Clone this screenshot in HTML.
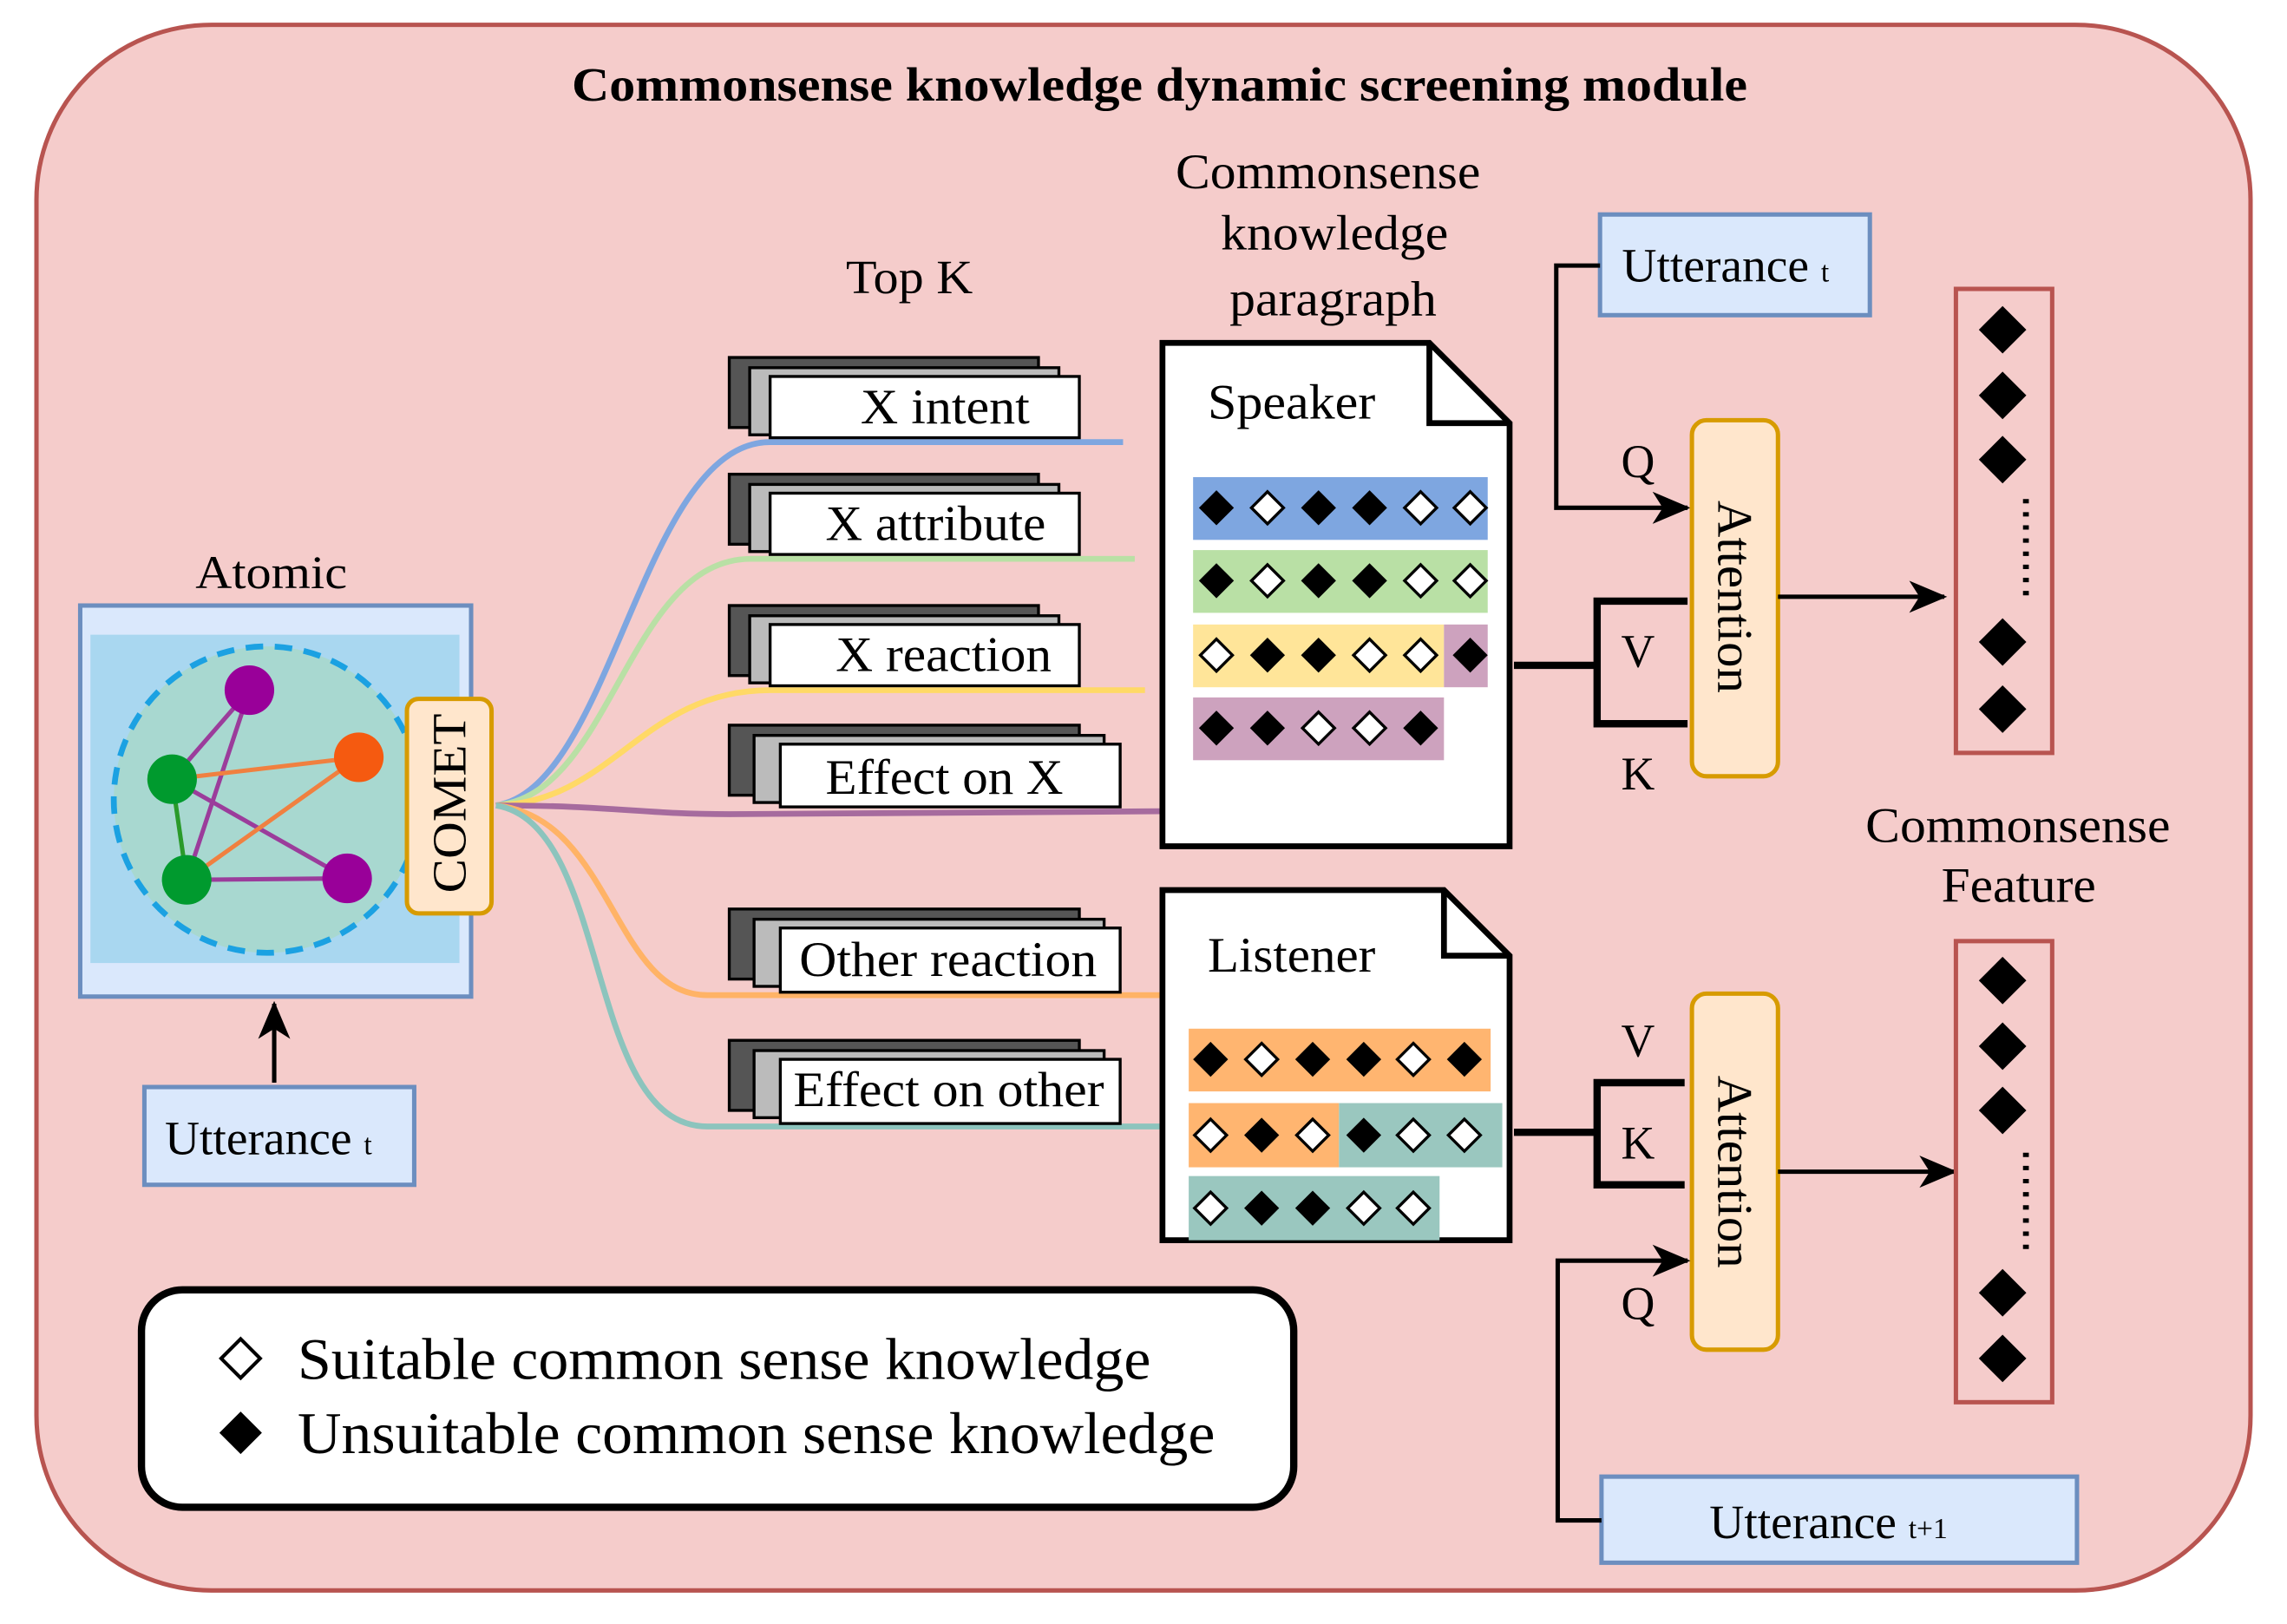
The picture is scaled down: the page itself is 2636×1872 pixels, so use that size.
<!DOCTYPE html>
<html><head><meta charset="utf-8"><style>html,body{margin:0;padding:0;background:#fff}svg{display:block}</style></head>
<body>
<svg width="2636" height="1872" viewBox="0 0 1568 1113" preserveAspectRatio="none" xmlns="http://www.w3.org/2000/svg" font-family="Liberation Serif, serif">
<defs>
<marker id="ah2" markerWidth="26" markerHeight="22" refX="24" refY="11" orient="auto" markerUnits="userSpaceOnUse"><path d="M0,0 L26,11 L0,22 L7,11 z" fill="#000"/></marker>
<symbol id="wd" viewBox="-14 -14 28 28"><path d="M0,-11 L11,0 L0,11 L-11,0 z" fill="#fff" stroke="#000" stroke-width="2"/></symbol>
<symbol id="bd" viewBox="-14 -14 28 28"><path d="M0,-12 L12,0 L0,12 L-12,0 z" fill="#000"/></symbol>
</defs>
<rect x="25" y="17" width="1518" height="1073" rx="120" fill="#f5cccb" stroke="#b85450" stroke-width="3"/>
<text x="392" y="69" font-size="33" font-weight="bold" textLength="806" lengthAdjust="spacingAndGlyphs">Commonsense knowledge dynamic screening module</text>

<!-- Atomic -->
<text x="134" y="403" font-size="32" textLength="104" lengthAdjust="spacingAndGlyphs">Atomic</text>
<rect x="55" y="415" width="268" height="268" fill="#dae8fc" stroke="#6c8ebf" stroke-width="3"/>
<rect x="62" y="435" width="253" height="225" fill="#a9d7f0"/>
<circle cx="183" cy="548" r="105" fill="#a8d8d0" stroke="#1ba1e2" stroke-width="4" stroke-dasharray="12,8"/>
<g stroke-width="3">
<line x1="171" y1="473" x2="118" y2="534" stroke="#9b3c9b"/>
<line x1="171" y1="473" x2="128" y2="603" stroke="#9b3c9b"/>
<line x1="118" y1="534" x2="246" y2="519" stroke="#f08040"/>
<line x1="118" y1="534" x2="238" y2="602" stroke="#9b3c9b"/>
<line x1="118" y1="534" x2="128" y2="603" stroke="#2a9a2a"/>
<line x1="128" y1="603" x2="246" y2="519" stroke="#f08040"/>
<line x1="128" y1="603" x2="238" y2="602" stroke="#9b3c9b"/>
</g>
<circle cx="171" cy="473" r="17" fill="#990099"/>
<circle cx="118" cy="534" r="17" fill="#009a2e"/>
<circle cx="246" cy="519" r="17" fill="#f55a10"/>
<circle cx="128" cy="603" r="17" fill="#009a2e"/>
<circle cx="238" cy="602" r="17" fill="#990099"/>
<rect x="279" y="479" width="58" height="147" rx="8" fill="#ffe6cc" stroke="#d79b00" stroke-width="3"/>
<text transform="translate(319,612) rotate(-90)" font-size="33" textLength="123" lengthAdjust="spacingAndGlyphs">COMET</text>
<rect x="99" y="745" width="185" height="67" fill="#dae8fc" stroke="#6c8ebf" stroke-width="3"/>
<text x="113" y="791" font-size="33">Utterance <tspan font-size="20">t</tspan></text>
<line x1="188" y1="742" x2="188" y2="688" stroke="#000" stroke-width="3" marker-end="url(#ah2)"/>

<!-- curves -->
<g fill="none" stroke-width="4">
<path d="M340,552 C420,540 440,303 528,303 L770,303" stroke="#7ea6e0"/>
<path d="M340,552 C420,545 430,383 515,383 L778,383" stroke="#b9e0a5"/>
<path d="M340,552 C420,550 440,473 528,473 L785,473" stroke="#ffd966"/>
<path d="M340,552 C420,552 440,558 500,558 L795,556" stroke="#a66b9e"/>
<path d="M340,552 C420,560 420,682 485,682 L795,682" stroke="#ffb366"/>
<path d="M340,552 C420,565 400,772 485,772 L795,772" stroke="#8cc4bd"/>
</g>

<text x="580" y="201" font-size="33" textLength="87" lengthAdjust="spacingAndGlyphs">Top K</text>
<g stroke="#000" stroke-width="2">
<rect x="500" y="245" width="212" height="48" fill="#555"/><rect x="514" y="252" width="212" height="46" fill="#bbb"/><rect x="528" y="258" width="212" height="42" fill="#fff"/>
<rect x="500" y="325" width="212" height="48" fill="#555"/><rect x="514" y="332" width="212" height="46" fill="#bbb"/><rect x="528" y="338" width="212" height="42" fill="#fff"/>
<rect x="500" y="415" width="212" height="48" fill="#555"/><rect x="514" y="422" width="212" height="46" fill="#bbb"/><rect x="528" y="428" width="212" height="42" fill="#fff"/>
<rect x="500" y="497" width="240" height="48" fill="#555"/><rect x="517" y="504" width="240" height="46" fill="#bbb"/><rect x="535" y="510" width="233" height="43" fill="#fff"/>
<rect x="500" y="623" width="240" height="48" fill="#555"/><rect x="517" y="630" width="240" height="46" fill="#bbb"/><rect x="535" y="636" width="233" height="44" fill="#fff"/>
<rect x="500" y="713" width="240" height="48" fill="#555"/><rect x="517" y="720" width="240" height="46" fill="#bbb"/><rect x="535" y="726" width="233" height="44" fill="#fff"/>
</g>
<g font-size="34" lengthAdjust="spacingAndGlyphs">
<text x="590" y="290" textLength="116" lengthAdjust="spacingAndGlyphs">X intent</text>
<text x="566" y="370" textLength="151" lengthAdjust="spacingAndGlyphs">X attribute</text>
<text x="573" y="460" textLength="148" lengthAdjust="spacingAndGlyphs">X reaction</text>
<text x="566" y="544" textLength="163" lengthAdjust="spacingAndGlyphs">Effect on X</text>
<text x="548" y="669" textLength="204" lengthAdjust="spacingAndGlyphs">Other reaction</text>
<text x="544" y="758" textLength="213" lengthAdjust="spacingAndGlyphs">Effect on other</text>
</g>

<!-- Speaker doc -->
<g font-size="34">
<text x="806" y="129" textLength="209" lengthAdjust="spacingAndGlyphs">Commonsense</text>
<text x="837" y="171" textLength="156" lengthAdjust="spacingAndGlyphs">knowledge</text>
<text x="843" y="216" textLength="142" lengthAdjust="spacingAndGlyphs">paragraph</text>
</g>
<path d="M797,235 L980,235 L1035,290 L1035,580 L797,580 z" fill="#fff" stroke="#000" stroke-width="4"/>
<path d="M980,235 L980,290 L1035,290" fill="none" stroke="#000" stroke-width="4"/>
<text x="828" y="287" font-size="34" textLength="115" lengthAdjust="spacingAndGlyphs">Speaker</text>
<rect x="818" y="327" width="202" height="43" fill="#7ea6e0"/>
<rect x="818" y="377" width="202" height="43" fill="#b9e0a5"/>
<rect x="818" y="428" width="172" height="43" fill="#ffe599"/><rect x="990" y="428" width="30" height="43" fill="#cda2be"/>
<rect x="818" y="478" width="172" height="43" fill="#cda2be"/>
<g>
<use href="#bd" x="820" y="334" width="28" height="28"/><use href="#wd" x="855" y="334" width="28" height="28"/><use href="#bd" x="890" y="334" width="28" height="28"/><use href="#bd" x="925" y="334" width="28" height="28"/><use href="#wd" x="960" y="334" width="28" height="28"/><use href="#wd" x="994" y="334" width="28" height="28"/>
<use href="#bd" x="820" y="384" width="28" height="28"/><use href="#wd" x="855" y="384" width="28" height="28"/><use href="#bd" x="890" y="384" width="28" height="28"/><use href="#bd" x="925" y="384" width="28" height="28"/><use href="#wd" x="960" y="384" width="28" height="28"/><use href="#wd" x="994" y="384" width="28" height="28"/>
<use href="#wd" x="820" y="435" width="28" height="28"/><use href="#bd" x="855" y="435" width="28" height="28"/><use href="#bd" x="890" y="435" width="28" height="28"/><use href="#wd" x="925" y="435" width="28" height="28"/><use href="#wd" x="960" y="435" width="28" height="28"/><use href="#bd" x="994" y="435" width="28" height="28"/>
<use href="#bd" x="820" y="485" width="28" height="28"/><use href="#bd" x="855" y="485" width="28" height="28"/><use href="#wd" x="890" y="485" width="28" height="28"/><use href="#wd" x="925" y="485" width="28" height="28"/><use href="#bd" x="960" y="485" width="28" height="28"/>
</g>

<!-- Listener doc -->
<path d="M797,610 L990,610 L1035,655 L1035,850 L797,850 z" fill="#fff" stroke="#000" stroke-width="4"/>
<path d="M990,610 L990,655 L1035,655" fill="none" stroke="#000" stroke-width="4"/>
<text x="828" y="666" font-size="34" textLength="115" lengthAdjust="spacingAndGlyphs">Listener</text>
<rect x="815" y="705" width="207" height="43" fill="#ffb570"/>
<rect x="815" y="756" width="103" height="44" fill="#ffb570"/><rect x="918" y="756" width="112" height="44" fill="#9ac7bf"/>
<rect x="815" y="806" width="172" height="44" fill="#9ac7bf"/>
<g>
<use href="#bd" x="816" y="712" width="28" height="28"/><use href="#wd" x="851" y="712" width="28" height="28"/><use href="#bd" x="886" y="712" width="28" height="28"/><use href="#bd" x="921" y="712" width="28" height="28"/><use href="#wd" x="955" y="712" width="28" height="28"/><use href="#bd" x="990" y="712" width="28" height="28"/>
<use href="#wd" x="816" y="764" width="28" height="28"/><use href="#bd" x="851" y="764" width="28" height="28"/><use href="#wd" x="886" y="764" width="28" height="28"/><use href="#bd" x="921" y="764" width="28" height="28"/><use href="#wd" x="955" y="764" width="28" height="28"/><use href="#wd" x="990" y="764" width="28" height="28"/>
<use href="#wd" x="816" y="814" width="28" height="28"/><use href="#bd" x="851" y="814" width="28" height="28"/><use href="#bd" x="886" y="814" width="28" height="28"/><use href="#wd" x="921" y="814" width="28" height="28"/><use href="#wd" x="955" y="814" width="28" height="28"/>
</g>

<!-- upper attention -->
<rect x="1097" y="147" width="185" height="69" fill="#dae8fc" stroke="#6c8ebf" stroke-width="3"/>
<text x="1112" y="193" font-size="33">Utterance <tspan font-size="20">t</tspan></text>
<path d="M1097,182 L1067,182 L1067,348 L1157,348" fill="none" stroke="#000" stroke-width="3" marker-end="url(#ah2)"/>
<text x="1123" y="327" font-size="32" text-anchor="middle">Q</text>
<path d="M1038,456 L1095,456 M1157,412 L1095,412 L1095,496 L1157,496" fill="none" stroke="#000" stroke-width="5"/>
<text x="1123" y="457" font-size="32" text-anchor="middle">V</text>
<text x="1123" y="541" font-size="32" text-anchor="middle">K</text>
<rect x="1160" y="288" width="59" height="244" rx="10" fill="#ffe6cc" stroke="#d79b00" stroke-width="3"/>
<text transform="translate(1178,343) rotate(90)" font-size="34" textLength="132" lengthAdjust="spacingAndGlyphs">Attention</text>
<line x1="1219" y1="409" x2="1333" y2="409" stroke="#000" stroke-width="3" marker-end="url(#ah2)"/>
<rect x="1341" y="198" width="66" height="318" fill="none" stroke="#b85450" stroke-width="3"/>
<use href="#bd" x="1354" y="207" width="38" height="38"/><use href="#bd" x="1354" y="252" width="38" height="38"/><use href="#bd" x="1354" y="296" width="38" height="38"/>
<line x1="1389" y1="342" x2="1389" y2="412" stroke="#000" stroke-width="4" stroke-dasharray="3,6"/>
<use href="#bd" x="1354" y="421" width="38" height="38"/><use href="#bd" x="1354" y="467" width="38" height="38"/>

<text x="1279" y="577" font-size="34" textLength="209" lengthAdjust="spacingAndGlyphs">Commonsense</text>
<text x="1331" y="618" font-size="34" textLength="106" lengthAdjust="spacingAndGlyphs">Feature</text>

<!-- lower attention -->
<path d="M1038,776 L1095,776 M1155,742 L1095,742 L1095,812 L1155,812" fill="none" stroke="#000" stroke-width="5"/>
<text x="1123" y="724" font-size="32" text-anchor="middle">V</text>
<text x="1123" y="794" font-size="32" text-anchor="middle">K</text>
<text x="1123" y="904" font-size="32" text-anchor="middle">Q</text>
<rect x="1160" y="681" width="59" height="244" rx="10" fill="#ffe6cc" stroke="#d79b00" stroke-width="3"/>
<text transform="translate(1178,737) rotate(90)" font-size="34" textLength="132" lengthAdjust="spacingAndGlyphs">Attention</text>
<rect x="1098" y="1012" width="326" height="59" fill="#dae8fc" stroke="#6c8ebf" stroke-width="3"/>
<text x="1172" y="1054" font-size="33">Utterance <tspan font-size="20">t+1</tspan></text>
<path d="M1098,1042 L1068,1042 L1068,864 L1157,864" fill="none" stroke="#000" stroke-width="3" marker-end="url(#ah2)"/>
<line x1="1219" y1="803" x2="1340" y2="803" stroke="#000" stroke-width="3" marker-end="url(#ah2)"/>
<rect x="1341" y="645" width="66" height="316" fill="none" stroke="#b85450" stroke-width="3"/>
<use href="#bd" x="1354" y="653" width="38" height="38"/><use href="#bd" x="1354" y="698" width="38" height="38"/><use href="#bd" x="1354" y="742" width="38" height="38"/>
<line x1="1389" y1="790" x2="1389" y2="860" stroke="#000" stroke-width="4" stroke-dasharray="3,6"/>
<use href="#bd" x="1354" y="867" width="38" height="38"/><use href="#bd" x="1354" y="912" width="38" height="38"/>

<!-- legend -->
<rect x="97" y="884" width="790" height="149" rx="28" fill="#fff" stroke="#000" stroke-width="5"/>
<use href="#wd" x="148" y="914" width="34" height="34"/>
<use href="#bd" x="148" y="965" width="34" height="34"/>
<text x="204" y="945" font-size="40" textLength="585" lengthAdjust="spacingAndGlyphs">Suitable common sense knowledge</text>
<text x="204" y="996" font-size="40" textLength="629" lengthAdjust="spacingAndGlyphs">Unsuitable common sense knowledge</text>
</svg>
</body></html>
